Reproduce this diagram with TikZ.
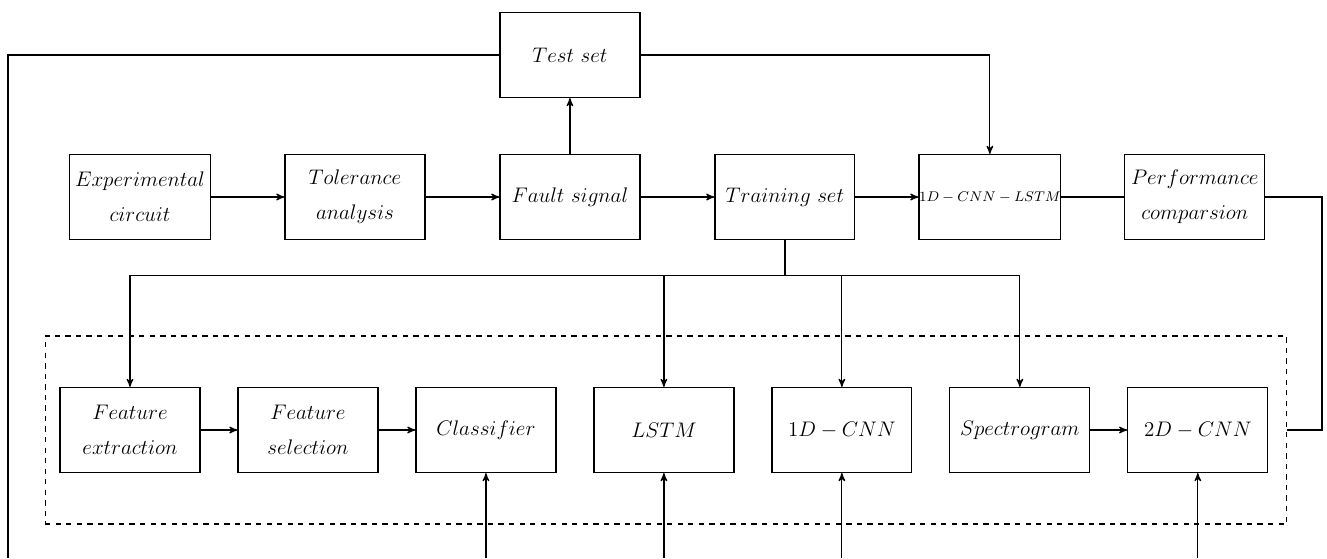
\documentclass[tikz,border=0pt]{standalone}
\usepackage{amsmath,amssymb}
\usetikzlibrary{arrows,positioning}

\begin{document}
\begin{tikzpicture}[->,>=stealth',auto,node distance=4.3cm,
        x=0.02cm,y=-0.02cm,line width=0.7pt,
        block/.style={draw,-,minimum width=2.8cm,minimum height=1.7cm,align=center,
            font=\fontsize{11.5}{14}\selectfont}]

    \useasboundingbox (0,0) rectangle (1327,558);

    % dashed group
    \node[draw,dashed,-,line width=0.6pt,minimum width=24.84cm,minimum height=3.76cm] (grp) at (666,430) {};

    % top row
    \node[block] (exp) at (140,197) {$Experimental$\\[6pt]$circuit$};
    \node[block] (tol) [right of=exp] {$Tolerance$\\[6pt]$analysis$};
    \node[block] (fault) [right of=tol] {$Fault\ signal$};
    \node[block] (train) [right of=fault] {$Training\ set$};
    \node[block,inner xsep=0pt,font=\fontsize{8.3}{10}\selectfont] (cnnlstm) [right of=train,node distance=4.1cm] {$1D-CNN-LSTM$};
    \node[block] (perf) [right of=cnnlstm,node distance=4.1cm] {$Performance$\\[6pt]$comparsion$};
    \node[block] (test) [above of=fault,node distance=2.84cm] {$Test\ set$};

    % bottom row
    \node[block] (fext) at (130,430) {$Feature$\\[6pt]$extraction$};
    \node[block] (fsel) [right of=fext,node distance=3.56cm] {$Feature$\\[6pt]$selection$};
    \node[block] (cls) [right of=fsel,node distance=3.56cm] {$Classifier$};
    \node[block] (lstm) [right of=cls,node distance=3.56cm] {$LSTM$};
    \node[block] (cnn1) [right of=lstm,node distance=3.56cm] {$1D-CNN$};
    \node[block] (spec) [right of=cnn1,node distance=3.56cm] {$Spectrogram$};
    \node[block] (cnn2) [right of=spec,node distance=3.56cm] {$2D-CNN$};

    \coordinate (lft) at (8,558);
    \coordinate (bot) at (0,558);
    \coordinate (rt) at (1322,197);

    \path (exp) edge (tol)
        (tol) edge (fault)
        (fault) edge (train)
        (train) edge (cnnlstm)
        (fault) edge (test)
        (fext) edge (fsel)
        (fsel) edge (cls)
        (spec) edge (cnn2);
    \draw[-] (cnnlstm) -- (perf);

    \draw[-] (test.west) -| (lft);
    \draw (test.east) -| (cnnlstm.north);

    \draw[-,line width=1.1pt] (train.south) -- ++(0,35.5) coordinate (split);
    \draw (split) -| (fext.north);
    \draw (split) -| (lstm.north);
    \draw (split) -| (cnn1.north);
    \draw (split) -| (spec.north);

    \draw[-] (perf.east) -- (rt) |- (grp.east);

    \draw[<-] (cls.south) -- (cls.south |- bot);
    \draw[<-] (lstm.south) -- (lstm.south |- bot);
    \draw[<-] (cnn1.south) -- (cnn1.south |- bot);
    \draw[<-] (cnn2.south) -- (cnn2.south |- bot);

\end{tikzpicture}
\end{document}
